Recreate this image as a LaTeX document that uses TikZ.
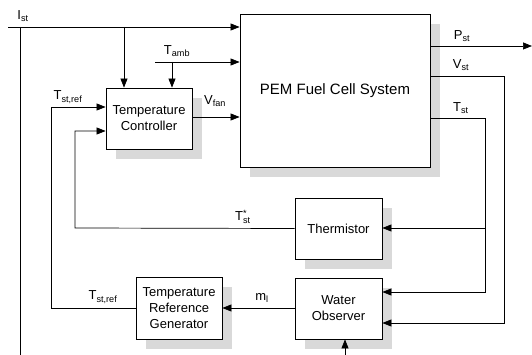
\documentclass[tikz,border=0pt]{standalone}
\usepackage{amsmath}
\usepackage{fontspec}
\setmainfont{Liberation Sans}
\usetikzlibrary{arrows.meta,shadows}

\newcommand{\sig}[2]{#1\textsubscript{#2}}

\begin{document}
\begin{tikzpicture}[
  x=1pt, y=-1pt,
  >={Triangle[length=9pt,width=7pt]},
  line width=0.7pt,
  block/.style={draw, fill=white, line width=0.8pt, align=center,
    font=\fontsize{13}{16}\selectfont, inner sep=0pt,
    drop shadow={shadow xshift=10pt, shadow yshift=-10pt, fill=black!15, opacity=1}},
  lbl/.style={font=\fontsize{13}{15}\selectfont, inner sep=0pt},
]
\useasboundingbox (0,0) rectangle (532,355);

% --- Bloecke ---
\node[block, minimum width=190pt, minimum height=153pt, font=\fontsize{15}{18}\selectfont] (pem) at (335,90.5) {PEM Fuel Cell System};
\node[block, minimum width=86pt, minimum height=61pt] (tc) at (149,118.5) {Temperature\\Controller};
\node[block, minimum width=87pt, minimum height=61pt] (therm) at (338.5,228.5) {Thermistor};
\node[block, minimum width=87pt, minimum height=61pt] (wo) at (338.5,308.5) {Water\\Observer};
\node[block, minimum width=86pt, minimum height=62pt] (trg) at (179,308) {Temperature\\Reference\\Generator};

% --- Hilfspunkte ---
\coordinate (ist) at (8,27);
\coordinate (istleft) at (20,27);
\coordinate (istdown) at (20,355);
\coordinate (isttc) at (124,27);
\coordinate (tamb) at (155,62);
\coordinate (tambtc) at (172,62);
\coordinate (vfan) at (192,117);
\coordinate (pst) at (532,46);
\coordinate (vst) at (504,76);
\coordinate (vstwo) at (504,323);
\coordinate (tst) at (485,118);
\coordinate (tstth) at (485,228);
\coordinate (tstwo) at (485,292);
\coordinate (tmeas) at (75,228);
\coordinate (tmeastc) at (75,131);
\coordinate (tref) at (51,308);
\coordinate (treftc) at (51,107);
\coordinate (wobottom) at (345,355);

% --- Eingaenge Brennstoffzelle ---
\draw[->] (ist) -- (pem.west |- ist);
\draw (istleft) -- (istdown);
\draw[->] (isttc) -- (tc.north -| isttc);
\draw[->] (tamb) -- (pem.west |- tamb);
\draw[->] (tambtc) -- (tc.north -| tambtc);
\draw[->] (vfan) -- (pem.west |- vfan);

% --- Ausgaenge Brennstoffzelle ---
\draw[->] (pem.east |- pst) -- (pst);
\draw[->] (pem.east |- vst) -- (vst) -- (vstwo) -- (wo.east |- vstwo);
\draw[->] (pem.east |- tst) -- (tst) -- (tstwo) -- (wo.east |- tstwo);
\draw[->] (tstth) -- (therm.east |- tstth);

% --- Rueckfuehrungen ---
\draw[->] (therm.west) -- (tmeas) -- (tmeastc) -- (tc.west |- tmeastc);
\draw[->] (trg.west |- tref) -- (tref) -- (treftc) -- (tc.west |- treftc);
\draw[->] (wo.west |- trg.east) -- (trg.east);
\draw[->] (wobottom) -- (wo.south -| wobottom);

% --- Beschriftungen ---
\node[lbl] (list) at (23,16) {\sig{I}{st}};
\node[lbl] (ltamb) at (177,51) {\sig{T}{amb}};
\node[lbl] (ltref) at (68,97) {\sig{T}{st,ref}};
\node[lbl] (lvfan) at (215,101) {\sig{V}{fan}};
\node[lbl] (lpst) at (462,36) {\sig{P}{st}};
\node[lbl] (lvst) at (461,65) {\sig{V}{st}};
\node[lbl] (ltst) at (461,108) {\sig{T}{st}};
\node[lbl] (ltmeas) at (243,217) {T$^{\text{*}}_{\text{st}}$};
\node[lbl] (ltrefb) at (103,297) {\sig{T}{st,ref}};
\node[lbl] (lml) at (262,298) {\sig{m}{l}};

\end{tikzpicture}
\end{document}
